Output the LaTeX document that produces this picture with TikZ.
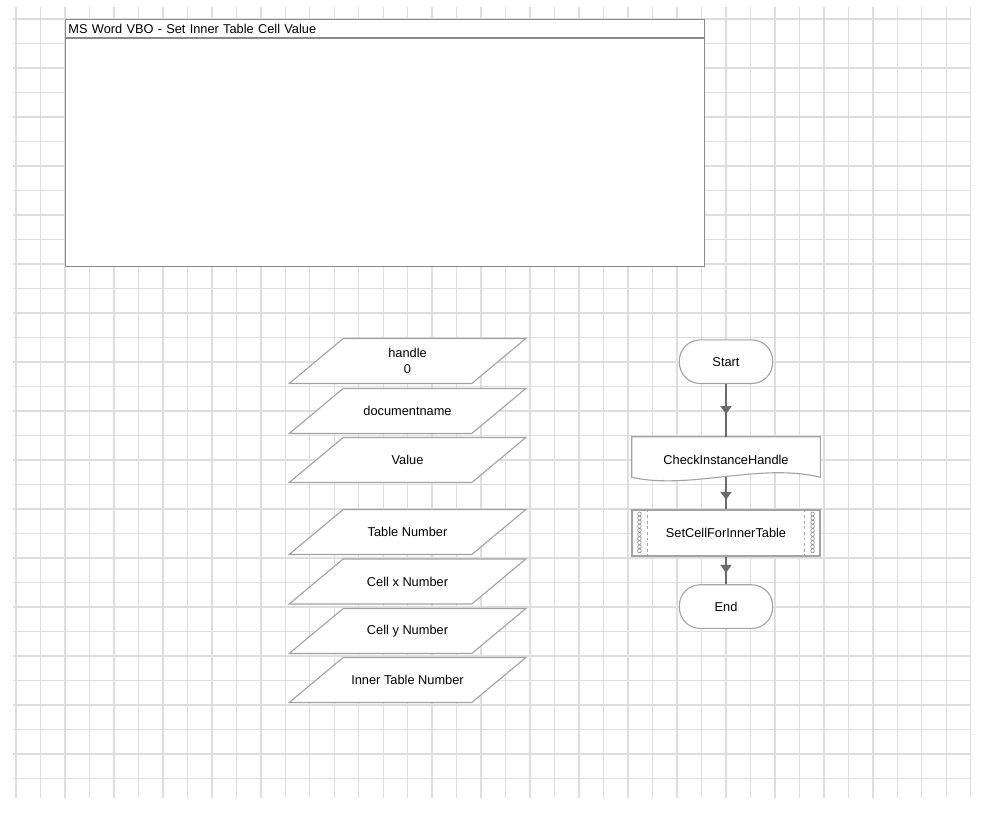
\documentclass[tikz,border=0pt]{standalone}
\usepackage{fontspec}
\setmainfont{Liberation Sans}
\usepackage{tikz}
\usetikzlibrary{arrows.meta,positioning,calc,decorations.markings}
\definecolor{gridgray}{HTML}{DEDEDE}
\definecolor{shapegray}{HTML}{A3A3A3}
\definecolor{boxgray}{HTML}{8A8A8A}
\definecolor{flowgray}{HTML}{6A6A6A}
\pgfdeclarelayer{back}
\pgfsetlayers{back,main}
\tikzset{
  gridline/.style={draw=gridgray,line width=1pt},
  titlebox/.style={rectangle,draw=boxgray,fill=white,line width=0.9pt,minimum width=15.975cm,minimum height=6.175cm,inner sep=0pt},
  titlebar/.style={rectangle,draw=boxgray,line width=0.9pt,text width=15.83cm,minimum height=0.46cm,inner xsep=2pt,inner ysep=0pt,align=left,font=\fontsize{9.1}{11}\selectfont},
  inputbox/.style={rectangle,minimum width=4.55cm,minimum height=1.11cm,inner sep=0pt,align=center,font=\fontsize{9.1}{11.3}\selectfont},
  inputline/.style={draw=shapegray,fill=white,line width=0.8pt},
  terminal/.style={rectangle,rounded corners=0.52cm,draw=shapegray,fill=white,line width=0.8pt,minimum width=2.33cm,minimum height=1.09cm,align=center,font=\fontsize{9.1}{11}\selectfont},
  docbox/.style={rectangle,minimum width=4.7cm,minimum height=1.0cm,text height=11pt,align=center,font=\fontsize{9.1}{11}\selectfont},
  subbox/.style={rectangle,draw=shapegray,fill=white,line width=0.8pt,minimum width=4.7cm,minimum height=1.15cm,align=center,font=\fontsize{9.1}{11}\selectfont},
  docline/.style={draw=shapegray,fill=white,line width=0.8pt},
  bandline/.style={draw=shapegray,line width=0.5pt,dash pattern=on 2pt off 2pt},
  bandring/.style={draw=shapegray!85!black,line width=0.45pt},
  flowarrow/.style={draw=flowgray,line width=1pt,postaction={decorate},
    decoration={markings,mark=at position #1 with {\arrow{Triangle[length=2mm,width=2.8mm]}}}},
  flowarrow/.default=0.58
}
\begin{document}
\begin{tikzpicture}[x=0.025cm,y=-0.025cm]
  \useasboundingbox (0,0) rectangle (998,816);
  % background grid
  \begin{pgfonlayer}{back}
  \foreach \k in {0,...,39}
    \draw[gridline] ({16+24.48*\k},7) -- ({16+24.48*\k},798);
  \foreach \k in {0,...,31}
    \draw[gridline] (13,{19+24.5*\k}) -- (971,{19+24.5*\k});
  \end{pgfonlayer}

  % object description box
  \node[titlebox,anchor=north west] (vbo) at (65,19) {};
  \node[titlebar,anchor=north west] (vbotitle) at (vbo.north west) {MS Word VBO - Set Inner Table Cell Value};

  % data items
  \node[inputbox] (handle) at (407.5,361) {handle\\0};
  \node[inputbox] (docname) at (407.5,411) {documentname};
  \node[inputbox] (value) at (407.5,460) {Value};
  \node[inputbox] (tablenum) at (407.5,532) {Table Number};
  \node[inputbox] (cellx) at (407.5,581.5) {Cell x Number};
  \node[inputbox] (celly) at (407.5,631) {Cell y Number};
  \node[inputbox] (innernum) at (407.5,680) {Inner Table Number};
  \begin{pgfonlayer}{back}
  \foreach \n in {handle,docname,value,tablenum,cellx,celly,innernum}
    \draw[inputline] ($(\n.south west)+(-27,0)$) -- ($(\n.south east)+(-27,0)$)
      -- ($(\n.north east)+(27,0)$) -- ($(\n.north west)+(27,0)$) -- cycle;
  \end{pgfonlayer}

  % flow
  \node[terminal] (start) at (726,361.7) {Start};
  \node[docbox] (check) at (726,457) {CheckInstanceHandle};
  \node[subbox] (setcell) at (726,533) {SetCellForInnerTable};
  \node[terminal] (end) at (726,606.6) {End};

  \begin{pgfonlayer}{back}
  \draw[docline] (check.north west) -- (check.north east) -- (check.south east)
    .. controls ($(check.south east)+(-60,-15)$) and ($(check.south west)+(58,13)$) .. (check.south west) -- cycle;
  \end{pgfonlayer}

  \draw[bandline] ($(setcell.north west)+(16,0)$) -- ($(setcell.south west)+(16,0)$);
  \draw[bandline] ($(setcell.north east)+(-16,0)$) -- ($(setcell.south east)+(-16,0)$);
  \foreach \k in {0,...,9} {
    \draw[bandring] ($(setcell.north west)+(8,{4.5+4.1*\k})$) circle[x radius=0.045cm,y radius=0.05cm];
    \draw[bandring] ($(setcell.north east)+(-8,{4.5+4.1*\k})$) circle[x radius=0.045cm,y radius=0.05cm];
  }

  \draw[flowarrow=0.57] (start) -- (check.north);
  \draw[flowarrow=0.7] (check.south) -- (setcell);
  \draw[flowarrow=0.59] (setcell) -- (end);
\end{tikzpicture}
\end{document}
